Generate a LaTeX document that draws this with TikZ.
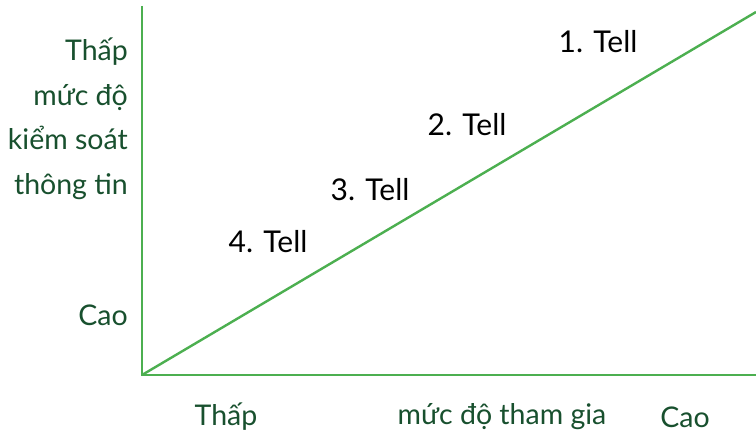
\documentclass[tikz,border=0pt]{standalone}
\usepackage{fontspec}
\setmainfont{Lato}
\definecolor{axisgreen}{RGB}{76,175,80}
\definecolor{txtgreen}{RGB}{24,80,46}
\begin{document}
\begin{tikzpicture}[x=1pt,y=-1pt,
  axis/.style={draw=axisgreen,line width=2.4pt},
  lab/.style={text=txtgreen,font=\fontsize{28.5}{44.5}\selectfont,inner sep=0pt},
  tell/.style={text=black,font=\fontsize{30}{34}\selectfont,inner sep=0pt}]
\useasboundingbox (0,0) rectangle (756,438);
\coordinate (O) at (142,375);
\coordinate (T) at (142,6);
\coordinate (R) at (756,375);
\coordinate (D) at (756,12);
\draw[axis] (T) -- (O) -- (R);
\draw[axis] (O) -- (D);
\node[lab,anchor=east,align=right] (ylow) at (128,119) {Thấp\\mức độ\\kiểm soát\\thông tin};
\node[lab,anchor=east] (yhigh) at (128,315) {Cao};
\node[lab] (xlow) at (226,417) {Thấp};
\node[lab] (xmid) at (502,417) {mức độ tham gia};
\node[lab] (xhigh) at (685,417) {Cao};
\node[tell] (t1) at (598,42) {1. Tell};
\node[tell] (t2) at (467,125) {2. Tell};
\node[tell] (t3) at (370,190) {3. Tell};
\node[tell] (t4) at (268,242) {4. Tell};
\end{tikzpicture}
\end{document}
